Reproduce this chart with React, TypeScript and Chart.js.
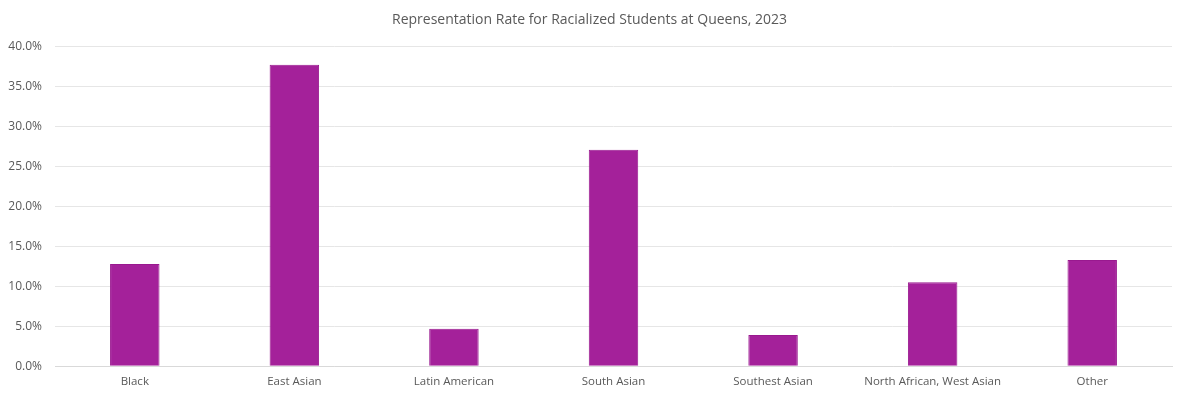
import React, { useEffect, useRef } from "react";
import { Chart, registerables } from "chart.js";

Chart.register(...registerables);

const categories = [
  "Black",
  "East Asian",
  "Latin American",
  "South Asian",
  "Southest Asian",
  "North African, West Asian",
  "Other",
];
const rates = [12.8, 37.75, 4.7, 27.1, 3.9, 10.5, 13.3];
const chartTitle = "Representation Rate for Racialized Students at Queens, 2023";

export default function App() {
  const ref = useRef<HTMLCanvasElement | null>(null);
  useEffect(() => {
    document.body.style.margin = "0";
    const ctx = ref.current!;
    const chart = new Chart(ctx, {
      type: "bar",
      data: {
        labels: categories,
        datasets: [
          {
            data: rates,
            backgroundColor: "#a4219a",
            borderColor: "#99198f",
            borderWidth: 1,
            barPercentage: 0.31,
            categoryPercentage: 1,
          },
        ],
      },
      options: {
        animation: false,
        responsive: false,
        maintainAspectRatio: false,
        layout: { padding: { left: 7, right: 10, top: 3, bottom: 1 } },
        plugins: {
          legend: { display: false },
          tooltip: { enabled: false },
          title: {
            display: true,
            text: chartTitle,
            color: "#595959",
            font: { family: "'Open Sans', sans-serif", size: 14, weight: "normal" },
            padding: { top: 9, bottom: 18 },
          },
        },
        scales: {
          x: {
            grid: { display: false, drawTicks: false },
            border: { display: true, color: "#d9d9d9" },
            ticks: {
              color: "#595959",
              font: { family: "'Open Sans', sans-serif", size: 11.5 },
              padding: 9,
              maxRotation: 0,
            },
          },
          y: {
            min: 0,
            max: 40,
            grid: { color: "#e6e6e6", drawTicks: false },
            border: { display: false },
            afterFit: (scale: any) => {
              scale.width = 48;
            },
            ticks: {
              stepSize: 5,
              color: "#595959",
              font: { family: "'Open Sans', sans-serif", size: 12 },
              padding: 13,
              callback: (v: any) => Number(v).toFixed(1) + "%",
            },
          },
        },
      },
    });
    return () => chart.destroy();
  }, []);
  return <canvas ref={ref} width={1182} height={399} style={{ display: "block" }} />;
}
